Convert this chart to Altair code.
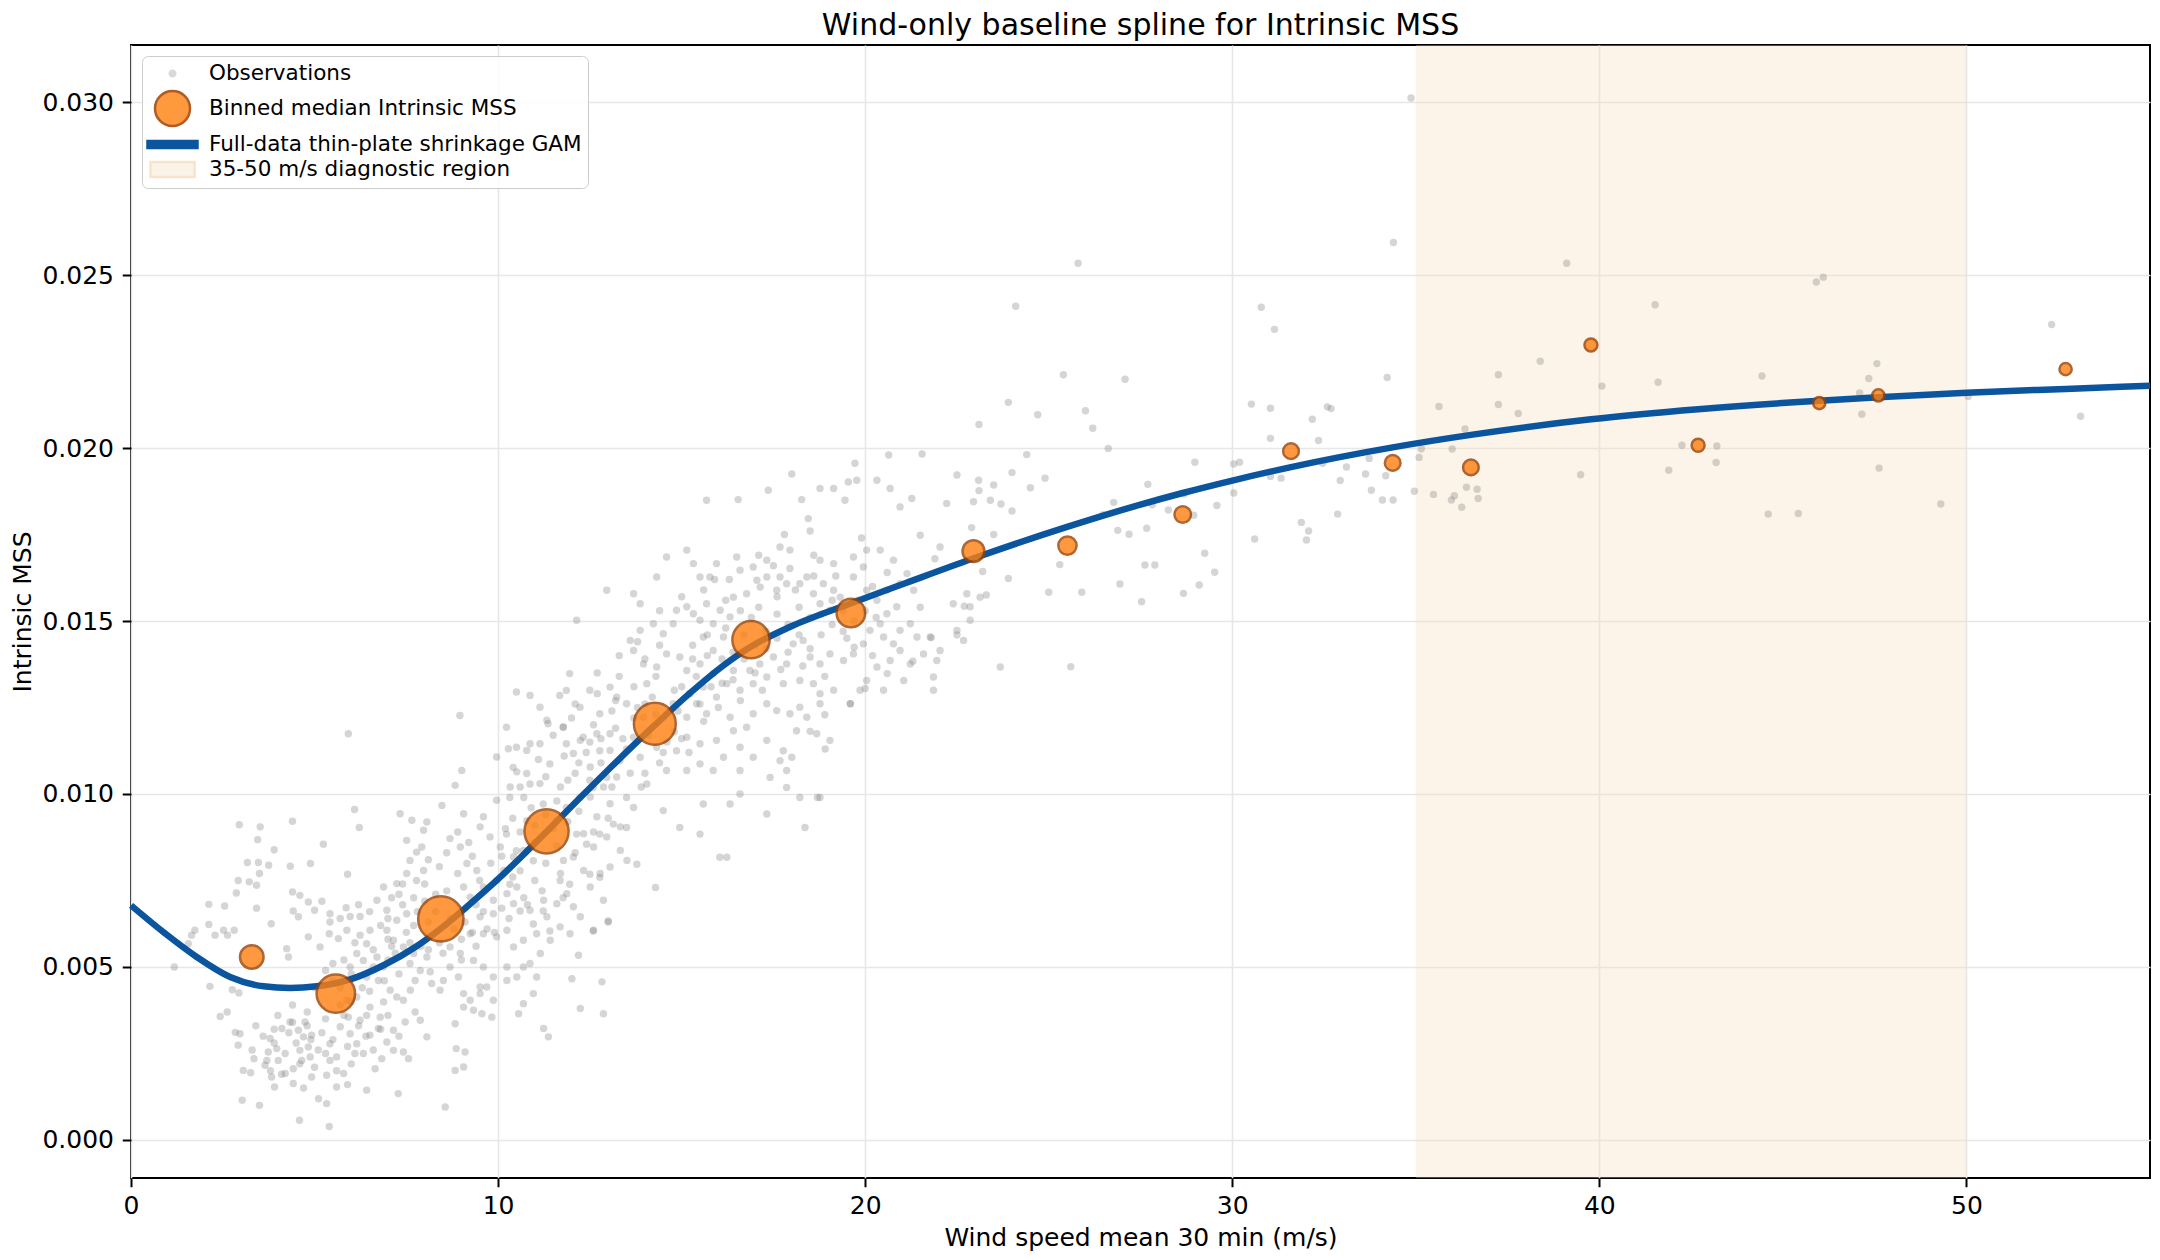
import altair as alt
import pandas as pd

L_OBS = "Observations"
L_BIN = "Binned median Intrinsic MSS"
L_GAM = "Full-data thin-plate shrinkage GAM"
L_REG = "35-50 m/s diagnostic region"

# ---- observations: (wind speed m/s, Intrinsic MSS in units of 1e-3) ----
obs_low = [
    (2.95, 9.11), (3.52, 9.05), (4.40, 9.21), (3.45, 8.68), (3.90, 8.39), (3.17, 8.02), (3.47, 8.02), (3.75, 7.94),
    (2.92, 7.50), (3.22, 7.46), (3.50, 7.70), (4.34, 7.91), (4.89, 7.99), (5.24, 8.55), (2.87, 7.14), (3.42, 7.36),
    (2.12, 6.81), (2.55, 6.76), (3.42, 6.70), (3.82, 6.25), (4.40, 7.17), (4.60, 7.07), (4.42, 6.62), (4.83, 6.88),
    (5.20, 6.90), (5.00, 6.64), (4.56, 6.45), (5.92, 11.74), (6.09, 9.55), (6.22, 9.03), (5.90, 7.68), (5.42, 6.54),
    (5.42, 6.30), (5.86, 6.71), (5.97, 6.46), (6.24, 6.46), (5.70, 6.40), (1.74, 6.06), (1.65, 5.92), (1.56, 5.67),
    (2.12, 6.23), (2.29, 5.92), (2.52, 6.06), (2.63, 5.92), (2.81, 6.06), (1.18, 5.00), (2.15, 4.44), (2.76, 4.34),
    (2.94, 4.25), (2.43, 3.57), (2.62, 3.70), (2.84, 3.11), (2.97, 3.07), (2.92, 2.74), (3.03, 1.15), (3.50, 1.00),
    (3.06, 2.01), (3.26, 1.94), (3.35, 2.35), (3.65, 2.16), (3.74, 2.54), (3.79, 2.93), (3.97, 2.64), (4.01, 2.30),
    (3.83, 1.82), (3.91, 1.53), (4.20, 1.92), (4.42, 2.06), (4.42, 1.63), (4.59, 0.57), (4.11, 3.22), (4.33, 3.41),
    (4.56, 3.17), (4.74, 3.41), (4.92, 3.03), (4.70, 2.98), (4.83, 2.69), (4.60, 2.59), (4.88, 2.40), (4.65, 2.30),
    (4.92, 1.82), (5.11, 1.19), (5.33, 1.05), (5.40, 0.39), (5.33, 1.87), (5.42, 2.30), (5.60, 1.53), (5.79, 1.92),
    (5.42, 2.78), (5.70, 3.27), (5.97, 3.07), (6.15, 2.78), (6.33, 2.50), (6.42, 1.44), (6.65, 2.06), (6.83, 2.35),
    (6.51, 3.03), (6.74, 3.22), (6.97, 2.83), (7.15, 2.59), (7.28, 1.34), (7.42, 2.54), (7.56, 2.35), (7.15, 3.17),
    (7.47, 3.41), (7.74, 3.70), (7.88, 3.46), (8.06, 2.98), (8.56, 0.95), (8.86, 2.64), (9.10, 2.54), (8.83, 2.01),
    (9.06, 2.11), (8.83, 3.36), (9.33, 3.75), (9.56, 3.65), (9.83, 3.55), (10.56, 3.65), (10.69, 3.94), (11.24, 3.22),
    (11.37, 2.98), (12.24, 3.80), (12.87, 3.65), (12.01, 4.66), (12.83, 4.57),
]
obs_mid = [
    (4.24, 5.53), (4.29, 5.29), (4.83, 5.87), (5.15, 5.58), (5.40, 5.96), (5.65, 5.82), (5.88, 6.06), (6.24, 5.92),
    (6.51, 6.06), (6.42, 5.67), (6.15, 5.39), (5.97, 5.00), (6.33, 5.19), (6.70, 5.29), (6.88, 5.00), (6.42, 4.71),
    (6.74, 4.61), (7.06, 4.33), (7.24, 4.13), (6.88, 3.99), (6.51, 3.84), (6.15, 4.13), (5.88, 4.04), (5.92, 3.55),
    (6.24, 3.46), (6.42, 3.60), (6.79, 3.55), (7.42, 4.04), (7.61, 4.33), (7.74, 4.61), (7.88, 4.90), (8.15, 4.86),
    (8.19, 4.52), (8.42, 4.33), (8.51, 4.61), (8.69, 5.00), (8.92, 4.71), (9.06, 4.23), (9.24, 4.04), (9.51, 4.23),
    (9.69, 4.42), (9.87, 4.71), (9.60, 5.00), (9.33, 5.19), (8.97, 5.39), (8.69, 5.58), (8.06, 5.29), (7.70, 5.39),
    (7.42, 5.58), (7.15, 5.77), (6.97, 6.06), (7.24, 6.35), (7.51, 6.54), (6.97, 6.64), (6.70, 6.93), (6.88, 7.31),
    (7.24, 7.41), (7.51, 7.70), (7.78, 7.50), (7.97, 7.79), (7.60, 8.08), (7.78, 8.32), (7.92, 8.47), (7.51, 8.66),
    (7.97, 8.95), (7.33, 9.43), (7.65, 9.24), (8.06, 9.19), (8.47, 9.67), (8.69, 8.71), (8.97, 8.47), (9.15, 7.99),
    (9.42, 7.79), (9.06, 7.31), (9.24, 7.02), (9.60, 7.31), (9.87, 6.93), (9.87, 6.54), (9.51, 6.45), (9.24, 5.96),
    (9.60, 5.96), (9.96, 5.87), (10.24, 6.06), (10.42, 5.58), (10.69, 5.77), (10.24, 5.00), (10.51, 4.71), (10.87, 5.10),
    (11.15, 5.39), (11.42, 5.77), (11.05, 5.96), (11.33, 6.45), (10.87, 6.64), (10.42, 6.83), (10.24, 7.12), (10.51, 7.31),
    (9.96, 7.50), (10.15, 7.79), (10.42, 8.18), (10.69, 8.37), (10.06, 8.47), (9.78, 8.76), (9.51, 9.05), (9.06, 9.43),
    (9.60, 9.34), (9.96, 9.82), (10.33, 10.20), (10.51, 10.64), (10.78, 10.59), (11.14, 10.30), (10.78, 11.26), (11.14, 11.45),
    (10.28, 11.31), (9.96, 11.07), (9.01, 10.68), (8.83, 10.25), (8.96, 12.27), (11.78, 11.94), (11.33, 12.13), (12.05, 11.17),
    (12.24, 11.55), (12.51, 10.78), (12.69, 11.74), (13.05, 11.26), (13.23, 10.49), (12.87, 10.20), (12.51, 9.91), (12.69, 9.34),
    (13.05, 9.72), (13.33, 9.05), (12.96, 8.76), (12.60, 8.47), (12.33, 8.85), (12.05, 8.18), (12.33, 7.79), (11.78, 8.08),
    (11.69, 7.50), (11.87, 7.12), (12.05, 6.74), (11.60, 6.83), (11.69, 6.16), (11.24, 6.93), (12.24, 6.45), (12.51, 7.31),
    (12.78, 7.70), (13.05, 7.89), (13.33, 8.37), (13.51, 8.08), (12.87, 6.93), (12.60, 6.06), (13.00, 6.30), (12.19, 5.34),
    (11.96, 5.96), (10.96, 4.23), (10.69, 5.00), (11.05, 4.71), (10.24, 4.61), (9.87, 4.04), (9.06, 3.84), (9.51, 4.42),
]
obs_band = [
    (10.32, 7.39), (10.60, 7.78), (10.96, 8.07), (10.50, 8.36), (10.23, 8.84), (10.78, 9.23), (11.23, 9.71), (10.32, 9.90),
    (10.87, 10.29), (11.41, 10.87), (11.86, 11.45), (12.32, 11.64), (11.77, 11.93), (11.36, 12.03), (10.87, 11.45), (10.41, 10.77),
    (10.50, 11.35), (10.23, 11.93), (11.68, 12.85), (12.23, 12.51), (12.77, 12.32), (12.50, 13.00), (13.05, 13.09), (13.23, 12.80),
    (13.50, 12.61), (13.05, 11.74), (12.77, 11.25), (13.32, 10.96), (12.96, 10.48), (12.59, 10.19), (12.23, 9.90), (11.86, 9.61),
    (11.59, 9.23), (12.14, 8.84), (12.41, 8.55), (12.77, 8.84), (13.14, 9.13), (13.50, 9.03), (13.78, 7.97), (12.77, 7.59),
    (12.50, 7.68), (11.95, 7.39), (11.77, 7.00), (11.23, 6.62), (10.60, 6.62), (10.96, 6.24), (11.41, 6.04), (12.59, 6.04),
    (13.00, 6.33), (14.29, 7.30), (13.69, 9.61), (14.05, 10.29), (14.50, 9.52), (14.95, 9.03), (15.50, 8.84), (15.59, 9.71),
    (16.04, 8.17), (16.32, 9.71), (16.59, 10.00), (16.59, 10.68), (17.32, 9.42), (17.41, 10.48), (17.68, 10.96), (17.86, 10.68),
    (18.22, 9.90), (18.36, 9.03), (18.77, 9.90), (18.68, 11.74), (18.91, 11.30), (19.04, 11.55), (18.13, 11.83), (17.95, 12.32),
    (18.22, 12.51), (17.59, 12.41), (17.32, 12.61), (16.95, 12.32), (16.77, 11.93), (16.41, 11.83), (16.32, 12.22), (15.95, 11.55),
    (15.50, 11.45), (15.14, 11.64), (14.86, 11.25), (15.50, 10.87), (15.86, 10.68), (15.14, 10.68), (14.59, 10.68), (14.32, 11.35),
    (13.87, 11.06), (13.69, 11.64), (13.96, 12.22), (14.77, 12.61), (15.14, 12.22), (15.41, 12.61), (15.68, 12.32), (15.23, 12.90),
    (15.59, 13.09), (15.95, 12.80), (16.23, 13.19), (16.59, 13.00), (16.95, 13.19), (17.32, 13.38), (17.77, 13.19), (18.22, 13.28),
    (18.59, 13.19), (18.77, 12.90), (19.14, 13.00), (19.59, 12.61), (19.86, 13.00), (20.04, 13.28), (20.32, 13.67), (20.68, 13.86),
    (20.95, 14.15), (21.23, 13.76), (21.59, 14.05), (21.86, 13.00), (22.04, 14.15), (21.77, 14.54), (21.41, 14.54), (20.95, 14.73),
    (20.77, 14.34), (20.50, 14.54), (20.41, 14.92), (20.59, 15.21), (20.86, 15.41), (21.23, 14.92), (20.13, 14.73), (19.95, 14.34),
    (19.68, 14.05), (19.41, 13.86), (19.04, 14.05), (18.77, 13.76), (18.50, 13.96), (18.31, 14.44), (18.04, 14.34), (17.86, 13.76),
    (17.50, 13.96), (17.13, 13.76), (16.86, 13.57), (16.41, 13.57), (15.86, 13.48), (15.50, 13.76), (15.14, 13.57), (14.95, 13.96),
    (14.59, 14.05), (14.32, 13.67), (14.05, 13.19), (13.96, 13.76), (13.69, 14.15), (13.60, 14.44), (13.87, 14.73), (14.23, 14.92),
    (14.50, 14.63), (14.77, 14.92), (14.86, 15.31), (15.14, 15.41), (15.32, 15.21), (15.59, 14.54), (15.86, 14.15), (16.14, 14.54),
    (15.86, 14.92), (15.50, 15.02), (15.68, 15.50), (16.05, 15.31), (16.32, 15.12), (16.41, 15.69), (16.77, 15.79), (17.14, 15.98),
    (17.05, 16.18), (17.32, 16.27), (17.59, 15.89), (17.86, 16.08), (17.68, 16.27), (17.95, 16.52), (18.22, 16.08), (18.41, 16.27),
    (18.59, 15.79), (18.77, 15.50), (19.04, 15.31), (19.14, 15.89), (18.86, 16.08), (19.32, 15.69), (19.68, 16.27), (19.95, 16.56),
    (20.04, 15.89), (20.32, 15.60), (20.59, 15.89), (20.95, 16.08), (21.32, 15.89), (21.14, 16.37), (20.77, 16.76), (20.41, 17.05),
    (20.04, 17.05), (19.68, 16.85), (19.14, 16.66), (18.77, 16.76), (17.95, 17.05), (17.68, 17.14), (17.32, 16.76), (16.95, 16.56),
    (16.59, 16.47), (16.50, 16.85), (15.95, 16.66), (15.77, 16.27), (15.50, 16.27), (15.14, 17.05), (15.32, 16.66), (14.59, 16.85),
    (14.32, 16.27), (13.69, 15.79), (13.87, 15.50), (12.96, 15.89), (12.14, 15.02), (11.95, 13.48), (11.86, 12.99), (10.50, 12.95),
    (10.87, 12.85), (11.14, 12.51), (15.68, 18.49), (16.54, 18.51), (17.36, 18.78), (18.00, 19.25), (18.27, 18.51), (18.45, 17.96),
    (18.77, 18.83), (19.14, 18.83), (19.45, 18.49), (19.72, 19.56), (19.77, 19.07), (19.54, 19.02), (20.32, 19.07), (20.64, 19.80),
    (21.55, 19.83), (20.68, 18.83), (20.95, 18.30), (21.27, 18.54), (21.50, 17.48), (22.04, 17.14), (22.50, 19.22), (23.09, 19.07),
    (22.95, 18.45), (23.41, 18.49), (23.50, 18.93), (22.22, 18.40), (22.40, 15.50), (22.77, 15.79), (22.86, 15.41), (23.13, 15.69),
    (22.50, 14.73), (22.86, 15.02), (22.68, 14.44), (21.86, 13.38), (21.05, 13.28), (20.50, 13.00), (18.77, 12.61), (18.41, 12.22),
    (17.77, 11.25), (17.32, 11.55), (16.95, 11.06), (16.59, 11.35), (16.14, 11.06), (23.68, 13.67), (21.95, 13.86), (17.86, 10.19),
    (16.23, 8.17), (19.70, 14.24), (20.00, 13.05), (19.60, 12.61), (18.90, 12.29), (18.50, 11.81), (18.00, 11.06), (18.70, 9.90),
    (20.60, 13.48), (21.30, 13.84), (21.80, 14.52), (22.50, 14.60), (22.70, 15.43), (23.30, 15.75), (23.20, 16.43), (23.90, 16.23),
    (22.90, 17.70), (23.50, 17.50), (23.70, 18.38), (24.00, 19.29), (23.10, 18.77),
]
obs_core = [
    (3.6, 3.0), (3.9, 2.8), (4.2, 2.5), (4.5, 2.8), (4.8, 3.3), (5.1, 2.6), (5.3, 3.5), (5.6, 2.4), (5.9, 2.7), (6.2, 3.3),
    (4.0, 3.6), (4.4, 3.9), (3.4, 3.3), (4.7, 1.5), (5.0, 2.1), (5.6, 2.0), (6.0, 2.2), (6.6, 2.6), (7.0, 3.6), (6.3, 4.4),
    (5.5, 4.6), (5.8, 5.2), (6.1, 5.7), (6.6, 5.5), (7.0, 5.2), (7.3, 4.8), (7.6, 5.1), (7.9, 5.6), (8.2, 5.9), (8.5, 5.4),
    (8.8, 6.1), (9.1, 6.3), (9.4, 6.8), (9.7, 6.1), (8.3, 6.6), (8.0, 6.9), (7.7, 6.2), (7.4, 6.8), (7.1, 7.0), (6.8, 6.2),
    (6.5, 6.6), (8.6, 7.2), (8.9, 7.7), (9.3, 8.2), (8.4, 7.9), (8.1, 8.1), (7.4, 7.4), (7.0, 5.8), (6.2, 6.8), (5.5, 5.1),
    (10.1, 6.7), (10.4, 7.6), (10.7, 7.0), (11.0, 7.5), (11.3, 8.0), (11.6, 8.5), (11.0, 8.6), (10.6, 8.9), (10.9, 9.6), (11.5, 9.0),
    (11.9, 9.2), (12.2, 9.5), (12.5, 10.4), (12.1, 10.6), (11.7, 10.2), (11.3, 10.5), (11.8, 11.1), (12.4, 11.2), (12.8, 11.6), (13.2, 11.9),
    (13.5, 11.3), (13.8, 12.5), (14.2, 12.8), (14.5, 12.2), (14.1, 11.7), (13.6, 10.6), (13.9, 10.2), (14.4, 10.9), (14.8, 11.8), (15.2, 11.2),
    (15.0, 13.1), (15.4, 13.4), (15.7, 14.0), (16.1, 13.2), (16.4, 14.1), (16.7, 14.6), (17.0, 14.3), (17.3, 14.7), (17.6, 15.2), (17.9, 14.9),
    (18.2, 15.4), (18.5, 15.1), (18.8, 14.6), (19.1, 14.9), (19.4, 15.3), (19.8, 15.6), (20.2, 16.0), (16.0, 12.5), (16.6, 12.7), (17.2, 13.0),
    (17.7, 13.6), (18.3, 13.7), (18.9, 13.4), (19.5, 14.5), (20.2, 14.0), (16.9, 15.1), (16.2, 15.6), (15.3, 14.3), (14.4, 14.3), (14.0, 13.9),
    (13.3, 13.4), (13.1, 12.4), (12.7, 12.9), (15.9, 16.2), (17.5, 16.6), (18.6, 16.9), (19.9, 17.4), (20.6, 16.4), (21.5, 15.4), (21.9, 16.8),
]
obs_core2 = [
    (3.3, 2.6), (3.7, 2.3), (4.1, 1.9), (4.4, 3.4), (4.9, 2.9), (5.2, 3.1), (5.5, 2.9), (5.8, 3.6), (6.1, 2.5), (6.4, 3.0),
    (3.9, 3.2), (4.6, 2.2), (5.3, 2.5), (6.8, 3.2), (7.3, 3.0), (5.0, 4.4), (5.3, 4.9), (5.7, 4.4), (6.0, 4.8), (6.5, 4.3),
    (6.9, 4.6), (7.2, 5.4), (7.5, 6.0), (7.8, 6.6), (8.1, 6.3), (8.4, 5.7), (8.7, 6.4), (9.0, 5.8), (9.3, 6.0), (9.6, 6.6),
    (7.0, 6.4), (7.3, 7.1), (7.7, 7.0), (8.0, 7.4), (8.3, 7.1), (8.6, 8.3), (8.9, 8.9), (9.2, 8.6), (9.5, 7.5), (9.8, 8.0),
    (10.1, 8.2), (10.4, 9.3), (10.7, 9.9), (11.0, 9.1), (11.3, 9.4), (11.6, 9.8), (11.9, 10.4), (12.2, 10.9), (12.5, 11.5), (12.8, 10.9),
    (13.1, 10.2), (13.4, 11.6), (13.7, 12.2), (14.0, 12.6), (14.3, 12.3), (14.6, 11.5), (14.9, 12.4), (15.2, 12.9), (15.5, 12.6), (15.8, 13.1),
    (16.1, 13.9), (16.4, 13.3), (16.7, 13.9), (17.0, 13.5), (17.3, 14.2), (17.6, 14.5), (17.9, 14.1), (18.2, 14.6), (18.5, 14.2), (18.8, 15.2),
    (19.1, 15.6), (19.4, 14.7), (19.7, 15.0), (20.0, 15.3), (20.3, 15.1), (12.0, 12.2), (12.6, 12.0), (13.2, 12.7), (13.7, 13.1), (14.3, 13.4),
    (14.8, 13.0), (15.3, 13.9), (15.7, 14.6), (16.2, 14.8), (16.6, 15.3), (17.1, 15.4), (17.6, 15.7), (18.1, 15.9), (18.6, 16.3), (19.2, 16.3),
    (10.2, 9.0), (10.6, 10.2), (11.1, 11.0), (11.5, 11.7), (12.1, 12.6), (12.7, 13.5), (13.3, 14.0), (13.8, 14.4), (14.4, 15.3), (15.0, 15.7),
    (15.6, 15.9), (16.3, 16.2), (17.1, 16.9), (17.8, 17.5), (18.5, 17.6), (9.0, 5.2), (9.4, 5.6), (9.9, 6.0), (10.3, 6.4), (10.8, 6.8),
    (11.2, 7.2), (11.7, 7.7), (12.1, 8.3), (12.6, 8.9), (13.0, 9.3), (13.5, 9.9), (14.0, 10.6), (14.5, 11.2), (15.0, 11.6), (15.6, 12.1),
    (6.0, 4.0), (6.6, 5.0), (7.1, 5.6), (7.6, 5.7), (8.1, 5.5), (5.7, 3.9), (4.8, 3.7), (4.3, 3.1), (3.8, 2.0), (5.9, 1.6),
]
obs_sparse = [
    (23.10, 20.68), (23.90, 21.32), (24.10, 24.10), (24.70, 20.96), (25.40, 22.12), (25.80, 25.34), (26.00, 21.08), (26.20, 20.57),
    (24.00, 18.18), (24.50, 18.85), (24.90, 19.13), (24.40, 19.81), (25.30, 16.63), (25.90, 15.83), (25.60, 13.68), (25.00, 15.83),
    (34.87, 30.12), (34.39, 25.94), (30.79, 24.07), (31.15, 23.43), (27.08, 21.99), (30.52, 21.27), (31.04, 21.15), (32.59, 21.19),
    (32.69, 21.14), (32.18, 20.83), (34.22, 22.04), (35.63, 21.20), (37.25, 22.12), (37.25, 21.26), (37.79, 21.00), (38.39, 22.51),
    (39.11, 25.34), (40.07, 21.79), (31.04, 20.28), (32.35, 20.22), (26.62, 19.99), (28.98, 19.59), (30.04, 19.54), (30.20, 19.59),
    (31.04, 19.18), (31.33, 19.13), (32.46, 19.56), (33.11, 19.45), (32.94, 19.06), (33.73, 19.70), (33.63, 19.25), (34.18, 19.20),
    (35.09, 19.73), (35.99, 19.97), (36.34, 20.55), (27.70, 18.95), (28.69, 18.67), (27.82, 18.36), (28.26, 18.21), (28.95, 18.06),
    (29.58, 18.34), (30.04, 18.70), (26.77, 18.43), (26.48, 18.07), (26.88, 17.62), (27.19, 17.51), (27.67, 17.68), (29.25, 16.96),
    (29.52, 16.41), (29.10, 16.04), (28.67, 15.80), (27.89, 16.62), (27.62, 16.62), (26.94, 16.07), (27.53, 15.56), (30.61, 17.37),
    (31.88, 17.85), (32.08, 17.60), (32.02, 17.34), (32.87, 18.09), (33.79, 18.78), (34.09, 18.50), (34.38, 18.50), (34.96, 18.75),
    (35.48, 18.66), (35.97, 18.50), (36.05, 18.62), (36.25, 18.29), (36.38, 18.87), (36.67, 18.81), (36.70, 18.54), (39.49, 19.23),
    (35.15, 19.98), (41.52, 24.14), (41.60, 21.90), (42.25, 20.08), (43.20, 20.06), (43.18, 19.58), (41.89, 19.36), (44.43, 22.08),
    (44.60, 18.09), (45.42, 18.11), (45.91, 24.80), (46.10, 24.94), (47.09, 21.59), (47.34, 22.01), (47.56, 22.44), (47.15, 20.98),
    (47.62, 19.42), (49.30, 18.38), (52.32, 23.57), (53.11, 20.92), (50.05, 21.49),
]

# ---- binned medians ----
bin_wind = [3.29, 5.58, 8.44, 11.32, 14.27, 16.89, 19.61, 22.95, 25.51, 28.65, 31.60, 34.37, 36.50, 39.77, 42.69, 45.99, 47.60, 52.70]
bin_mss = [5.29, 4.23, 6.39, 8.92, 12.03, 14.46, 15.23, 17.02, 17.18, 18.08, 19.91, 19.57, 19.44, 22.98, 20.08, 21.30, 21.52, 22.28]
bin_count = [50, 155, 220, 208, 186, 145, 80, 41, 25, 18, 15, 15, 15, 6, 6, 4, 4, 4]

# ---- GAM fit ----
gam_wind = [0, 0.88, 1.79, 2.70, 3.61, 4.33, 5.06, 5.97, 6.88, 7.78, 8.45, 9.15, 9.96, 10.78, 11.33, 12.24, 13.05,
            14.26, 15.21, 16.12, 16.87, 17.93, 19.58, 21.11, 22.92, 25.50, 27.45, 28.65, 30.00, 31.60, 34.37, 36.50,
            39.77, 42.69, 45.99, 47.60, 50.00, 52.70, 55.00]
gam_mss = [6.78, 6.01, 5.29, 4.71, 4.44, 4.39, 4.44, 4.64, 5.05, 5.60, 6.12, 6.74, 7.50, 8.34, 8.92, 9.90, 10.75,
           11.98, 12.90, 13.70, 14.25, 14.82, 15.50, 16.10, 16.80, 17.72, 18.35, 18.70, 19.06, 19.45, 20.02, 20.38,
           20.83, 21.12, 21.37, 21.47, 21.60, 21.71, 21.80]

region_start = [35]
region_end = [50]

x_ticks = [0, 10, 20, 30, 40, 50]
y_ticks = [0.0, 0.005, 0.010, 0.015, 0.020, 0.025, 0.030]

obs_all = obs_low + obs_mid + obs_band + obs_core + obs_core2 + obs_sparse
obs_df = pd.DataFrame({"wind": [p[0] for p in obs_all], "mss": [p[1] / 1000 for p in obs_all]})
bin_df = pd.DataFrame({"wind": bin_wind, "mss": [v / 1000 for v in bin_mss], "n": bin_count})
gam_df = pd.DataFrame({"wind": gam_wind, "mss": [v / 1000 for v in gam_mss]})
reg_df = pd.DataFrame({"x0": region_start, "x1": region_end})
legend_df = pd.DataFrame({"series": pd.Series([], dtype="object")})

labels = [L_OBS, L_BIN, L_GAM, L_REG]

# legend symbol glyphs (unit paths, scaled by the legend symbol size)
SYM_OBS = "M0.4,0A0.4,0.4,0,1,1,-0.4,0A0.4,0.4,0,1,1,0.4,0Z"
SYM_BIN = "M1.75,0A1.75,1.75,0,1,1,-1.75,0A1.75,1.75,0,1,1,1.75,0Z"
SYM_GAM = "M-2.5,-0.35L2.5,-0.35L2.5,0.35L-2.5,0.35Z"
SYM_REG = "M-2.2,-0.75L2.2,-0.75L2.2,0.75L-2.2,0.75Z"

legend = alt.Legend(
    title=None, orient="top-left", offset=11, padding=6,
    fillColor="rgba(255,255,255,0.85)", strokeColor="#cccccc", cornerRadius=6,
    labelFont="DejaVu Sans", labelFontSize=21.5, labelColor="black", labelLimit=800, labelOffset=25,
    symbolSize=400, symbolStrokeWidth=2.5, symbolOffset=13, rowPadding=2,
)

xs = alt.Scale(domain=[0, 55], nice=False, zero=False)
ys = alt.Scale(domain=[-0.0011, 0.03165], nice=False, zero=False)
x_axis = alt.Axis(values=x_ticks, format="d", title="Wind speed mean 30 min (m/s)", labelFlush=False)
y_axis = alt.Axis(values=y_ticks, format=".3f", title="Intrinsic MSS", labelFlush=False)

region = alt.Chart(reg_df).mark_rect(color="#f5dcbc", opacity=0.32).encode(
    x=alt.X("x0:Q", scale=xs, axis=x_axis), x2="x1:Q")

obs = alt.Chart(obs_df).mark_circle(size=55, opacity=0.33, color="#808080").encode(
    x=alt.X("wind:Q", scale=xs, axis=x_axis), y=alt.Y("mss:Q", scale=ys, axis=y_axis))

gam = alt.Chart(gam_df).mark_line(strokeWidth=6.5, interpolate="monotone", color="#0b559f").encode(
    x=alt.X("wind:Q", scale=xs, axis=x_axis), y=alt.Y("mss:Q", scale=ys, axis=y_axis))

bins = alt.Chart(bin_df).mark_circle(fill="#ff7f0e", stroke="#9a4000", strokeWidth=2.5, opacity=0.8).encode(
    x=alt.X("wind:Q", scale=xs, axis=x_axis), y=alt.Y("mss:Q", scale=ys, axis=y_axis),
    size=alt.Size("n:Q", scale=alt.Scale(domain=[3, 220], range=[140, 2050]), legend=None))

legend_layer = alt.Chart(legend_df).mark_point(filled=True, opacity=1).encode(
    fill=alt.Fill("series:N", scale=alt.Scale(domain=labels, range=["#d9d9d9", "#ff993e", "#0b559f", "#fcf3e8"]),
                  legend=legend),
    stroke=alt.Stroke("series:N", scale=alt.Scale(domain=labels,
                                                  range=["rgba(0,0,0,0)", "#ad5c26", "#0b559f", "#f8e4cb"]),
                      legend=legend),
    shape=alt.Shape("series:N", scale=alt.Scale(domain=labels, range=[SYM_OBS, SYM_BIN, SYM_GAM, SYM_REG]),
                    legend=legend),
)

chart = alt.layer(region, obs, gam, bins, legend_layer).properties(
    width=2019, height=1133,
    title=alt.TitleParams("Wind-only baseline spline for Intrinsic MSS", font="DejaVu Sans", fontSize=30,
                          fontWeight="normal", color="black", anchor="middle", frame="group", offset=4),
    autosize=alt.AutoSizeParams(type="none"),
    padding={"left": 123, "top": 37, "right": 2, "bottom": 74},
).configure(font="DejaVu Sans").configure_view(stroke="black", strokeWidth=2).configure_axis(
    domain=False, grid=True, gridColor="#e7e7e7", gridWidth=1.6, tickColor="black", tickWidth=2, tickSize=8.75,
    labelFont="DejaVu Sans", labelFontSize=25, labelColor="black", titleFont="DejaVu Sans", titleFontSize=25,
    titleFontWeight="normal", titleColor="black",
).configure_axisX(labelPadding=7, titlePadding=7).configure_axisY(labelPadding=8.75, titlePadding=6)

chart.save("out.html", embed_options={"renderer": "svg", "actions": False})
